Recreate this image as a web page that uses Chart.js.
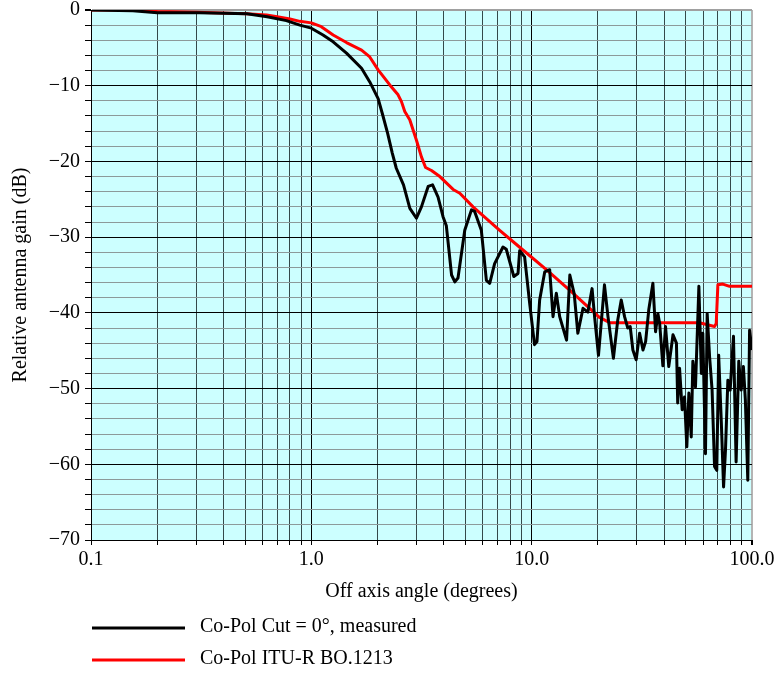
<!DOCTYPE html>
<html>
<head>
<meta charset="utf-8">
<script src="https://cdn.jsdelivr.net/npm/chart.js@4.4.1/dist/chart.umd.min.js"></script>
<style>
  html, body { margin: 0; padding: 0; background: #ffffff; }
  #wrap { width: 776px; height: 675px; }
</style>
</head>
<body>
<div id="wrap"><canvas id="c" width="776" height="675"></canvas></div>
<script>
// ---- Data ----
const measuredAngles = [0.1, 0.155, 0.2, 0.31, 0.51, 0.63, 0.77, 0.887, 1.0, 1.13, 1.256, 1.444, 1.69, 1.842, 2.01, 2.11, 2.22, 2.33, 2.43, 2.62, 2.8, 3.0, 3.16, 3.39, 3.55, 3.76, 3.96, 4.1, 4.33, 4.48, 4.63, 4.97, 5.33, 5.51, 5.91, 6.23, 6.45, 6.79, 7.41, 7.67, 8.3, 8.67, 8.82, 9.29, 9.79, 10.3, 10.57, 10.87, 11.46, 12.07, 12.5, 12.94, 13.4, 14.4, 14.9, 15.6, 16.2, 17.1, 18.0, 18.8, 19.3, 20.1, 21.4, 22.2, 23.5, 24.6, 25.5, 26.4, 27.3, 28.0, 28.8, 29.8, 30.9, 32.0, 32.9, 34.0, 35.5, 36.5, 37.4, 38.1, 39.4, 40.5, 41.9, 43.8, 45.4, 46.0, 46.9, 48.2, 49.4, 50.6, 51.7, 53.0, 53.9, 55.4, 57.4, 58.9, 59.8, 61.5, 62.6, 64.2, 65.9, 67.6, 69.2, 70.6, 72.6, 74.3, 75.8, 77.7, 79.6, 82.4, 84.7, 87.1, 89.3, 91.4, 93.3, 95.7, 97.5, 100];
const measuredGain = [0, -0.1, -0.35, -0.35, -0.5, -0.9, -1.4, -2.0, -2.4, -3.3, -4.2, -5.7, -7.7, -9.5, -11.7, -13.9, -16.3, -18.9, -20.9, -23.1, -26.2, -27.5, -26.0, -23.3, -23.1, -24.7, -27.3, -28.5, -35.0, -35.9, -35.4, -29.1, -26.4, -26.6, -29.1, -35.7, -36.1, -33.5, -31.3, -31.6, -35.2, -34.8, -31.8, -32.6, -38.7, -44.2, -43.8, -38.3, -34.6, -34.3, -40.5, -37.4, -40.5, -43.6, -35.0, -37.5, -42.7, -39.4, -39.9, -36.8, -40.5, -45.6, -36.3, -40.5, -46.0, -40.9, -38.3, -40.5, -42.0, -41.8, -44.9, -46.2, -42.7, -44.9, -43.8, -39.6, -36.1, -42.5, -40.1, -41.4, -47.0, -41.8, -47.1, -42.9, -44.0, -51.9, -47.3, -52.8, -51.1, -57.7, -50.6, -56.4, -46.4, -49.8, -36.5, -48.0, -42.7, -58.6, -40.1, -45.8, -50.2, -60.3, -60.8, -45.6, -54.6, -63.0, -58.1, -48.9, -50.2, -43.1, -59.7, -46.4, -50.2, -47.1, -51.5, -62.1, -42.3, -44.9];

const ituAngles = [0.1, 0.167, 0.2, 0.3, 0.508, 0.626, 0.7, 0.8, 0.887, 1.0, 1.11, 1.256, 1.444, 1.69, 1.842, 2.01, 2.27, 2.476, 2.565, 2.655, 2.797, 3.0, 3.16, 3.3, 3.51, 3.83, 4.4, 4.72, 5.42, 7.16, 9.13, 11.66, 15.4, 20.3, 22.6, 57.8, 67.6, 68.8, 70.0, 73.7, 79.1, 100];
const ituGain = [0, 0, -0.2, -0.3, -0.5, -0.66, -0.9, -1.2, -1.5, -1.7, -2.2, -3.3, -4.3, -5.3, -6.2, -7.9, -9.9, -11.2, -12.1, -13.4, -14.5, -17.2, -19.4, -20.8, -21.2, -22.0, -23.7, -24.2, -26.0, -29.1, -31.7, -34.3, -37.4, -40.6, -41.3, -41.3, -41.8, -41.4, -36.3, -36.2, -36.5, -36.5];

const seriesLabels = ['Co-Pol Cut = 0\u00b0, measured', 'Co-Pol ITU-R BO.1213'];
const seriesColors = ['#000000', '#ff0000'];

const xGridValues = [0.1, 0.2, 0.3, 0.4, 0.5, 0.6, 0.7, 0.8, 0.9, 1, 2, 3, 4, 5, 6, 7, 8, 9, 10, 20, 30, 40, 50, 60, 70, 80, 90, 100];
const xLabelValues = [0.1, 1, 10, 100];
const xLabelTexts = ['0.1', '1.0', '10.0', '100.0'];
const yMin = -70, yMax = 0, yStep = 2, yLabelStep = 10;

const xTitle = 'Off axis angle (degrees)';
const yTitle = 'Relative antenna gain (dB)';

// ---- Chart ----
const FONT = "'Liberation Serif', 'Times New Roman', serif";
Chart.defaults.font.family = FONT;
Chart.defaults.font.size = 20;
Chart.defaults.color = '#000';

const toPts = (xs, ys) => xs.map((x, i) => ({ x: x, y: ys[i] }));

const bgPlugin = {
  id: 'plotBg',
  beforeDraw(chart) {
    const a = chart.chartArea, ctx = chart.ctx;
    ctx.save();
    ctx.fillStyle = '#ccffff';
    ctx.fillRect(a.left, a.top, a.right - a.left, a.bottom - a.top);
    ctx.restore();
  }
};

const legendPlugin = {
  id: 'stackLegend',
  afterDraw(chart) {
    const a = chart.chartArea, ctx = chart.ctx;
    ctx.save();
    chart.data.datasets.forEach((ds, i) => {
      const y = a.bottom + 88 + i * 32;
      ctx.strokeStyle = ds.borderColor;
      ctx.lineWidth = 3;
      ctx.beginPath();
      ctx.moveTo(a.left + 1, y);
      ctx.lineTo(a.left + 94, y);
      ctx.stroke();
      ctx.fillStyle = '#000';
      ctx.font = '20px ' + FONT;
      ctx.textBaseline = 'middle';
      ctx.textAlign = 'left';
      ctx.fillText(ds.label, a.left + 109, y - 1);
    });
    ctx.restore();
  }
};

new Chart(document.getElementById('c'), {
  type: 'line',
  data: {
    datasets: [
      { label: seriesLabels[0], data: toPts(measuredAngles, measuredGain), borderColor: seriesColors[0], borderWidth: 3, pointRadius: 0, tension: 0, borderJoinStyle: 'round' },
      { label: seriesLabels[1], data: toPts(ituAngles, ituGain), borderColor: seriesColors[1], borderWidth: 3, pointRadius: 0, tension: 0, borderJoinStyle: 'round' }
    ]
  },
  options: {
    responsive: false,
    animation: false,
    devicePixelRatio: 1,
    layout: { padding: { left: 0, right: 24, top: 10, bottom: 71 } },
    plugins: { legend: { display: false }, tooltip: { enabled: false } },
    scales: {
      x: {
        type: 'logarithmic',
        min: 0.1, max: 100,
        afterBuildTicks: (s) => { s.ticks = xGridValues.map(v => ({ value: v })); },
        afterFit: (s) => { s.height = 64; s.paddingLeft = 0; s.paddingRight = 0; },
        ticks: {
          autoSkip: false, maxRotation: 0, minRotation: 0, padding: 3,
          callback: (v) => { const k = xLabelValues.findIndex(t => Math.abs(t - v) < 1e-9); return k >= 0 ? xLabelTexts[k] : ''; }
        },
        grid: {
          color: (c) => {
            const v = c.tick ? c.tick.value : 0;
            if (Math.abs(v - 100) < 1e-9) return '#b4b4b4';
            return xLabelValues.some(t => Math.abs(t - v) < 1e-9) ? '#000' : '#34494a';
          },
          lineWidth: (c) => (c.tick && Math.abs(c.tick.value - 100) < 1e-9) ? 2 : 1,
          tickColor: '#000', tickLength: 5, drawTicks: true
        },
        border: { display: true, color: '#000', width: 1 },
        title: { display: true, text: xTitle, padding: { top: 0, bottom: 0 }, font: { size: 20 } }
      },
      y: {
        type: 'linear',
        min: yMin, max: yMax,
        afterFit: (s) => { s.width = 91; s.paddingTop = 0; s.paddingBottom = 0; },
        ticks: {
          stepSize: yStep, autoSkip: false, padding: 5,
          callback: (v) => (Math.round(v) % yLabelStep === 0) ? (v === 0 ? '0' : '\u2212' + Math.abs(v)) : ''
        },
        grid: {
          color: (c) => {
            const v = c.tick ? c.tick.value : 0;
            if (v === 0) return '#a0a0a0';
            return (Math.round(v) % yLabelStep === 0) ? '#000' : '#8c9a9a';
          },
          lineWidth: (c) => (c.tick && c.tick.value === 0) ? 2 : 1,
          tickColor: '#000', tickLength: 6, drawTicks: true
        },
        border: { display: true, color: '#000', width: 1 },
        title: { display: true, text: yTitle, padding: { top: 9, bottom: 0 }, font: { size: 20 } }
      }
    }
  },
  plugins: [bgPlugin, legendPlugin]
});
</script>
</body>
</html>
